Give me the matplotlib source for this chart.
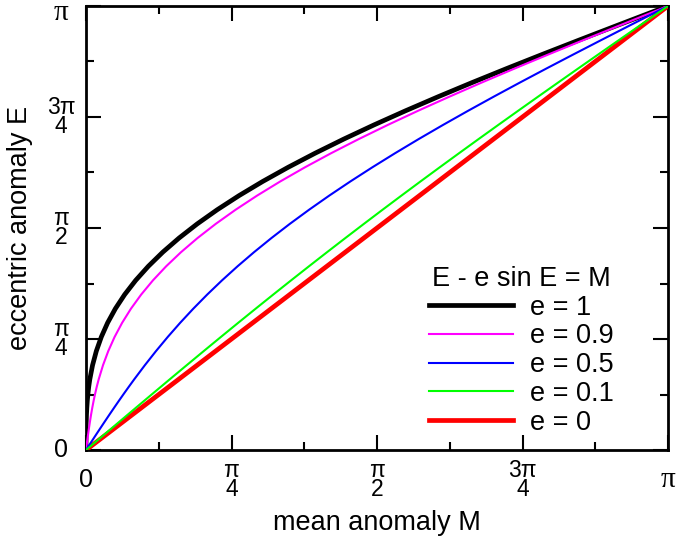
import matplotlib
matplotlib.use("Agg")
import matplotlib.pyplot as plt
import matplotlib.transforms as mtransforms
import numpy as np

plt.rcParams['font.family'] = ['Liberation Sans', 'DejaVu Sans']

# eccentric anomaly samples (radians)
E_vals = [0.0, 0.05, 0.1, 0.15, 0.2, 0.25, 0.3, 0.35, 0.4, 0.45, 0.5, 0.6, 0.7,
          0.8, 0.9, 1.0, 1.1, 1.2, 1.3, 1.4, 1.5, 1.6, 1.7, 1.8, 1.9, 2.0, 2.1,
          2.2, 2.3, 2.4, 2.5, 2.6, 2.7, 2.8, 2.9, 3.0, 3.1, 3.141593]

# mean anomaly for each eccentricity
M_e1 = [0.0, 0.000021, 0.000167, 0.000562, 0.001331, 0.002596, 0.00448, 0.007102,
        0.010582, 0.015034, 0.020574, 0.035358, 0.055782, 0.082644, 0.116673,
        0.158529, 0.208793, 0.267961, 0.336442, 0.41455, 0.502505, 0.600426,
        0.708335, 0.826152, 0.9537, 1.090703, 1.236791, 1.391504, 1.554295,
        1.724537, 1.901528, 2.084499, 2.27262, 2.465012, 2.660751, 2.85888,
        3.058419, 3.141593]
M_e09 = [0.0, 0.005019, 0.01015, 0.015506, 0.021198, 0.027336, 0.034032, 0.041392,
         0.049524, 0.058531, 0.068517, 0.091822, 0.120204, 0.15438, 0.195006,
         0.242676, 0.297914, 0.361165, 0.432798, 0.513095, 0.602254, 0.700383,
         0.807501, 0.923537, 1.04833, 1.181633, 1.323112, 1.472354, 1.628865,
         1.792083, 1.961375, 2.136049, 2.315358, 2.498511, 2.684676, 2.872992,
         3.062577, 3.141593]
M_e05 = [0.0, 0.02501, 0.050083, 0.075281, 0.100665, 0.126298, 0.15224, 0.178551,
         0.205291, 0.232517, 0.260287, 0.317679, 0.377891, 0.441322, 0.508336,
         0.579264, 0.654396, 0.73398, 0.818221, 0.907275, 1.001252, 1.100213,
         1.204167, 1.313076, 1.42685, 1.545351, 1.668395, 1.795752, 1.927147,
         2.062268, 2.200764, 2.342249, 2.48631, 2.632506, 2.780375, 2.92944,
         3.079209, 3.141593]
M_e01 = [0.0, 0.045002, 0.090017, 0.135056, 0.180133, 0.22526, 0.270448, 0.31571,
         0.361058, 0.406503, 0.452057, 0.543536, 0.635578, 0.728264, 0.821667,
         0.915853, 1.010879, 1.106796, 1.203644, 1.301455, 1.40025, 1.500043,
         1.600833, 1.702615, 1.80537, 1.90907, 2.013679, 2.11915, 2.225429,
         2.332454, 2.440153, 2.54845, 2.657262, 2.766501, 2.876075, 2.985888,
         3.095842, 3.141593]
M_e0 = [0.0, 3.141593]
E_e0 = [0.0, 3.141593]

series_labels = ['e = 1', 'e = 0.9', 'e = 0.5', 'e = 0.1', 'e = 0']
tick_vals = [0, np.pi / 4, np.pi / 2, 3 * np.pi / 4, np.pi]
tick_labels = ['0', 'π\n4', 'π\n2', '3π\n4', 'π']
minor_vals = [np.pi / 8, 3 * np.pi / 8, 5 * np.pi / 8, 7 * np.pi / 8]

W, H = 676, 544
fig = plt.figure(figsize=(W / 100, H / 100), dpi=100)
ax = fig.add_axes([86 / W, 1 - 450 / H, (668 - 86) / W, (450 - 6) / H])

ax.plot(M_e1, E_vals, color='#000000', lw=3.4, label=series_labels[0], zorder=3)
ax.plot(M_e09, E_vals, color='#ff00ff', lw=1.5, label=series_labels[1], zorder=4)
ax.plot(M_e05, E_vals, color='#0000ff', lw=1.5, label=series_labels[2], zorder=4)
ax.plot(M_e01, E_vals, color='#00ff00', lw=1.5, label=series_labels[3], zorder=4)
ax.plot(M_e0, E_e0, color='#ff0000', lw=3.4, label=series_labels[4], zorder=3)

ax.set_xlim(0, np.pi)
ax.set_ylim(0, np.pi)

for s in ax.spines.values():
    s.set_linewidth(2.0)

ax.set_xticks(tick_vals)
ax.set_xticklabels(tick_labels)
ax.set_yticks(tick_vals)
ax.set_yticklabels(tick_labels)
ax.set_xticks(minor_vals, minor=True)
ax.set_yticks(minor_vals, minor=True)
ax.tick_params(which='major', direction='in', length=11, width=1.5,
               top=True, right=True, labelsize=16.5)
ax.tick_params(which='minor', direction='in', length=5.5, width=1.5,
               top=True, right=True)
ax.tick_params(axis='x', which='major', pad=21.5)
ax.tick_params(axis='y', which='major', pad=18)

for lab in ax.get_xticklabels():
    lab.set_va('center')
    lab.set_linespacing(0.8)
for lab in ax.get_yticklabels():
    lab.set_ha('center')
    lab.set_va('center')
    lab.set_linespacing(0.8)

# zero labels slightly larger, pi labels serif
for labs in (ax.get_xticklabels(), ax.get_yticklabels()):
    labs[0].set_fontsize(18)
    labs[-1].set_fontsize(21)
    labs[-1].set_fontfamily(['Liberation Serif', 'DejaVu Serif'])

ypi = ax.get_yticklabels()[-1]
ypi.set_transform(ypi.get_transform() + mtransforms.ScaledTranslation(0, -5 / 72, fig.dpi_scale_trans))

ax.set_xlabel('mean anomaly M', fontsize=19.5)
ax.set_ylabel('eccentric anomaly E', fontsize=19.5)
ax.xaxis.label.set_va('center')
ax.yaxis.label.set_va('center')
ax.xaxis.set_label_coords((377 - 86) / (668 - 86), -(523 - 450) / (450 - 6))
ax.yaxis.set_label_coords(-(86 - 20) / (668 - 86), 0.5)

leg = ax.legend(loc='upper left', bbox_to_anchor=((429 - 86) / (668 - 86), 1 - (266 - 6) / (450 - 6)),
                frameon=False, fontsize=19.5, title='E - e sin E = M', title_fontsize=19.5,
                handlelength=3.1, handletextpad=0.62, labelspacing=0.1, borderpad=0,
                borderaxespad=0)

fig.savefig('out.png', dpi=100)
